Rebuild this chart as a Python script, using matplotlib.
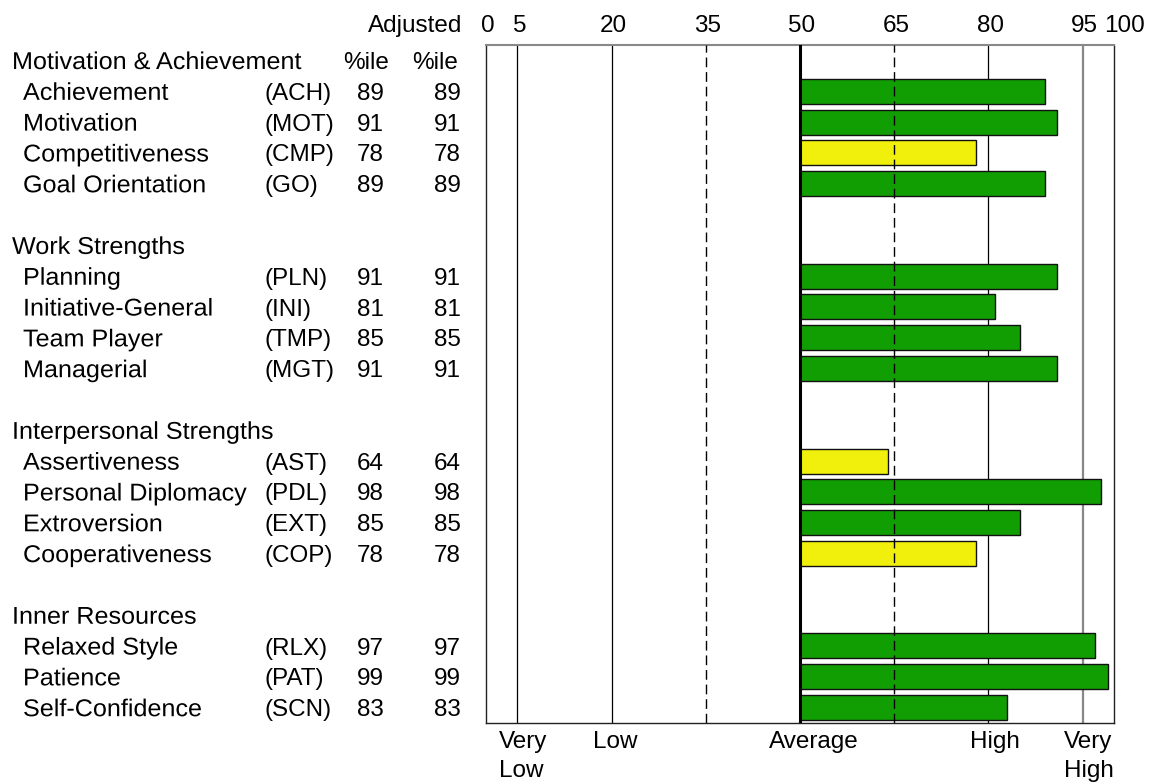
import matplotlib
matplotlib.use("Agg")
import matplotlib.pyplot as plt
from matplotlib import transforms
from matplotlib.patheffects import AbstractPathEffect

sections = ["Motivation & Achievement", "Work Strengths",
            "Interpersonal Strengths", "Inner Resources"]
names = [
    ["Achievement", "Motivation", "Competitiveness", "Goal Orientation"],
    ["Planning", "Initiative-General", "Team Player", "Managerial"],
    ["Assertiveness", "Personal Diplomacy", "Extroversion", "Cooperativeness"],
    ["Relaxed Style", "Patience", "Self-Confidence"],
]
codes = [
    ["ACH", "MOT", "CMP", "GO"],
    ["PLN", "INI", "TMP", "MGT"],
    ["AST", "PDL", "EXT", "COP"],
    ["RLX", "PAT", "SCN"],
]
percentile = [
    [89, 91, 78, 89],
    [91, 81, 85, 91],
    [64, 98, 85, 78],
    [97, 99, 83],
]
adjusted = [
    [89, 91, 78, 89],
    [91, 81, 85, 91],
    [64, 98, 85, 78],
    [97, 99, 83],
]

scale_ticks = [0, 5, 20, 35, 50, 65, 80, 95, 100]
band_pos = [5, 20, 50, 80, 95]
band_labels = ["Very\nLow", "Low", "Average", "High", "Very\nHigh"]
band_shift = [-3, -3, -5, -3, -3]

GREEN = "#119e03"
YELLOW = "#f0f00c"
W, H = 1154, 782

plt.rcParams["font.family"] = ["Liberation Sans", "DejaVu Sans"]
FS = 17.5


class Stretch(AbstractPathEffect):
    # widen glyphs a little, anchored at the text origin
    def __init__(self, sx):
        super().__init__()
        self.sx = sx

    def draw_path(self, renderer, gc, tpath, affine, rgbFace=None):
        renderer.draw_path(gc, tpath, transforms.Affine2D().scale(self.sx, 1) + affine,
                           rgbFace)


wide = [Stretch(1.035)]

fig = plt.figure(figsize=(W / 100, H / 100), dpi=100)
ax = fig.add_axes([486 / W, 1 - 723 / H, (1114 - 486) / W, (723 - 45) / H])
ax.set_xlim(0, 100)
ax.set_ylim(21.5, -0.5)
ax.set_xticks([])
ax.set_yticks([])
for side in ["left", "bottom", "right"]:
    ax.spines[side].set_linewidth(1.0)
    ax.spines[side].set_color("#222222")
ax.spines["top"].set_color("#888888")
ax.spines["top"].set_linewidth(1.5)

# reference lines
for v in [5, 20, 80]:
    ax.axvline(v, color="black", lw=0.9, zorder=1)
ax.axvline(95, color="#888888", lw=1.6, zorder=1)
for v in [35, 65]:
    ax.axvline(v, color="black", lw=1.0, dashes=(7, 3.5), zorder=3)

# rows
row = 0
rows, vals = [], []
tl = transforms.blended_transform_factory(fig.transFigure, ax.transData)
tl = transforms.offset_copy(tl, fig, x=0, y=-8.6, units="dots")
for s, sec in enumerate(sections):
    ax.text(12 / W, row, sec, transform=tl, fontsize=FS, va="baseline",
            ha="left", clip_on=False, path_effects=wide)
    if s == 0:
        ax.text(343 / W, row, "%ile", transform=tl, fontsize=FS,
                va="baseline", clip_on=False)
        ax.text(412 / W, row, "%ile", transform=tl, fontsize=FS,
                va="baseline", clip_on=False)
    for n, c, p, a in zip(names[s], codes[s], percentile[s], adjusted[s]):
        row += 1
        ax.text(23 / W, row, n, transform=tl, fontsize=FS, va="baseline",
                clip_on=False, path_effects=wide)
        ax.text(265 / W, row, "(%s)" % c, transform=tl, fontsize=FS,
                va="baseline", clip_on=False)
        ax.text(357 / W, row, str(p), transform=tl, fontsize=FS,
                va="baseline", clip_on=False)
        ax.text(461 / W, row, str(a), transform=tl, fontsize=FS,
                va="baseline", ha="right", clip_on=False)
        rows.append(row)
        vals.append(a)
    row += 2

colors = [GREEN if v >= 80 else YELLOW for v in vals]
ax.barh(rows, [v - 50 for v in vals], left=50, height=0.81, color=colors,
        edgecolor="#111111", linewidth=1.0, zorder=2)
ax.axvline(50, color="black", lw=2.2, zorder=4)

# top scale
ttop = transforms.blended_transform_factory(ax.transData, fig.transFigure)
ttop2 = transforms.offset_copy(ttop, fig, x=2, y=0, units="dots")
for t in scale_ticks:
    tr = ttop2 if t != 100 else transforms.offset_copy(ttop, fig, x=10, y=0, units="dots")
    ax.text(t, 1 - 32 / H, str(t), transform=tr, fontsize=FS, ha="center",
            va="baseline", clip_on=False)
fig.text(462 / W, 1 - 32 / H, "Adjusted", fontsize=FS, ha="right",
         va="baseline")

# bottom band labels
for pos, lab, sh in zip(band_pos, band_labels, band_shift):
    for k, line in enumerate(lab.split("\n")):
        ax.text(pos + sh, 1 - (748 + 29 * k) / H, line, transform=ttop,
                fontsize=FS, ha="left", va="baseline", clip_on=False)

fig.savefig("out.png", dpi=100)
